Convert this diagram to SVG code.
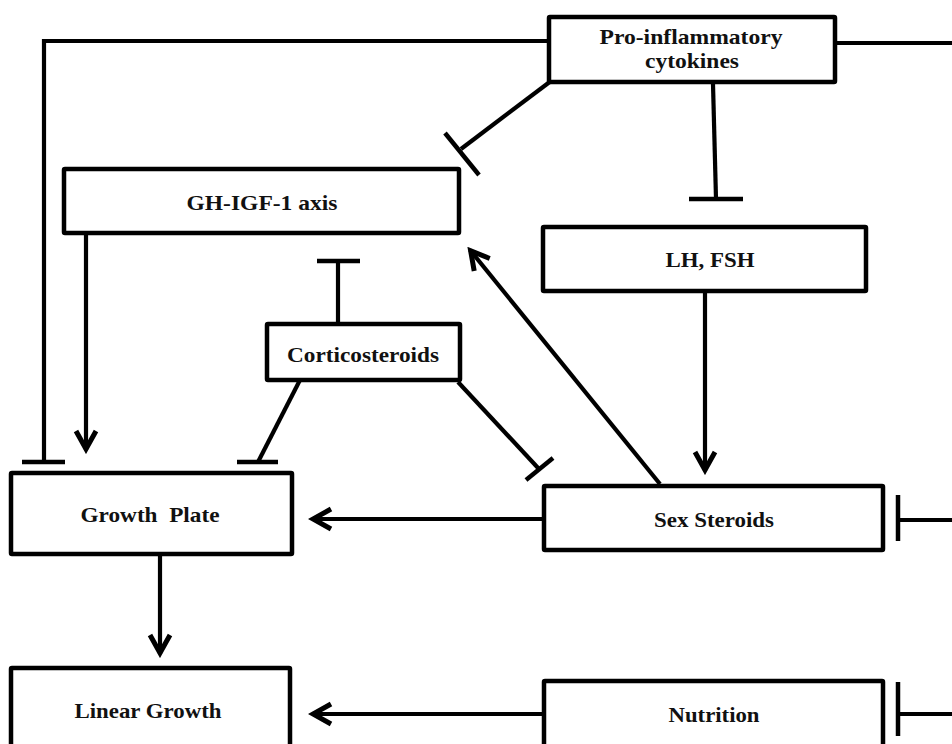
<svg xmlns="http://www.w3.org/2000/svg" width="952" height="744" viewBox="0 0 952 744">
<defs>
<style>
.box{fill:#fff;stroke:#000;stroke-width:4.5}
.ln{fill:none;stroke:#000;stroke-width:4.2;stroke-linecap:butt}
.bar{fill:none;stroke:#000;stroke-width:4.5;stroke-linecap:butt}
.t{font-family:"Liberation Serif","Times New Roman",serif;font-weight:bold;font-size:21px;fill:#111;text-anchor:middle}
</style>
<marker id="arr" viewBox="-24 -15 28 30" markerWidth="28" markerHeight="30" refX="0" refY="0" orient="auto" markerUnits="userSpaceOnUse">
<path d="M-19,-10 L-1,0 L-19,10" fill="none" stroke="#000" stroke-width="5" stroke-linejoin="miter"/>
<path d="M-10,-5 L0,0 L-10,5 L-7,0 Z" fill="#000"/>
</marker>
</defs>
<rect width="952" height="744" fill="#fff"/>
<g id="connectors">
<polyline class="ln" points="549,41 44,41 44,462"/>
<line class="bar" x1="22" y1="462" x2="65" y2="462"/>
<line class="ln" x1="835" y1="43" x2="952" y2="43"/>
<line class="ln" x1="551" y1="81" x2="461" y2="149"/>
<line class="bar" x1="445" y1="133" x2="479" y2="175"/>
<line class="ln" x1="713" y1="84" x2="716" y2="199"/>
<line class="bar" x1="689" y1="199" x2="743" y2="199"/>
<line class="ln" x1="86" y1="233" x2="86" y2="450" marker-end="url(#arr)"/>
<line class="ln" x1="338" y1="323" x2="338" y2="261"/>
<line class="bar" x1="317" y1="261" x2="360" y2="261"/>
<line class="ln" x1="300" y1="380" x2="258" y2="462"/>
<line class="bar" x1="237" y1="462" x2="278" y2="462"/>
<line class="ln" x1="458" y1="382" x2="539" y2="469"/>
<line class="bar" x1="526" y1="480" x2="553" y2="458"/>
<line class="ln" x1="705" y1="291" x2="705" y2="471" marker-end="url(#arr)"/>
<line class="ln" x1="660" y1="484" x2="470" y2="250" marker-end="url(#arr)"/>
<line class="ln" x1="544" y1="519" x2="312" y2="519" marker-end="url(#arr)"/>
<line class="ln" x1="160" y1="554" x2="160" y2="654" marker-end="url(#arr)"/>
<line class="ln" x1="544" y1="714" x2="312" y2="714" marker-end="url(#arr)"/>
<line class="ln" x1="952" y1="520" x2="898" y2="520"/>
<line class="bar" x1="898" y1="495" x2="898" y2="541"/>
<line class="ln" x1="952" y1="714" x2="898" y2="714"/>
<line class="bar" x1="898" y1="682" x2="898" y2="736"/>
</g>
<g id="pro-inflammatory">
<rect class="box" x="549" y="17" width="286" height="65" rx="1"/>
<text class="t" x="691" y="44" textLength="183" lengthAdjust="spacingAndGlyphs">Pro-inflammatory</text>
<text class="t" x="692" y="68" textLength="94" lengthAdjust="spacingAndGlyphs">cytokines</text>
</g>
<g id="gh-igf1">
<rect class="box" x="64" y="169" width="395" height="64" rx="1"/>
<text class="t" x="262" y="210" textLength="151" lengthAdjust="spacingAndGlyphs">GH-IGF-1 axis</text>
</g>
<g id="lh-fsh">
<rect class="box" x="543" y="227" width="323" height="64" rx="1"/>
<text class="t" x="710" y="267" textLength="89" lengthAdjust="spacingAndGlyphs">LH, FSH</text>
</g>
<g id="corticosteroids">
<rect class="box" x="267" y="324" width="193" height="56" rx="1"/>
<text class="t" x="363" y="362" textLength="152" lengthAdjust="spacingAndGlyphs">Corticosteroids</text>
</g>
<g id="growth-plate">
<rect class="box" x="11" y="473" width="281" height="81" rx="1"/>
<text class="t" x="150" y="522" textLength="139" lengthAdjust="spacingAndGlyphs" xml:space="preserve">Growth  Plate</text>
</g>
<g id="sex-steroids">
<rect class="box" x="544" y="486" width="339" height="64" rx="1"/>
<text class="t" x="714" y="527" textLength="120" lengthAdjust="spacingAndGlyphs">Sex Steroids</text>
</g>
<g id="linear-growth">
<rect class="box" x="11" y="668" width="279" height="90" rx="1"/>
<text class="t" x="148" y="718" textLength="147" lengthAdjust="spacingAndGlyphs">Linear Growth</text>
</g>
<g id="nutrition">
<rect class="box" x="544" y="681" width="339" height="80" rx="1"/>
<text class="t" x="714" y="722" textLength="91" lengthAdjust="spacingAndGlyphs">Nutrition</text>
</g>
</svg>
